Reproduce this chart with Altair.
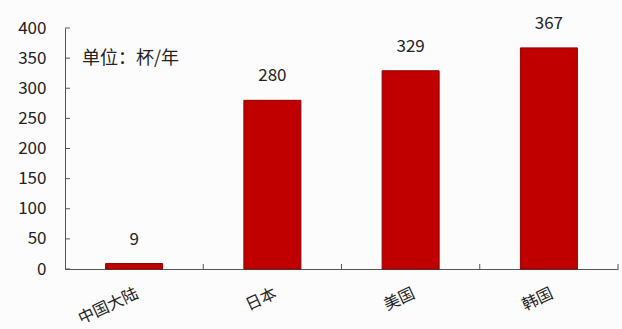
import altair as alt
import pandas as pd

categories = ["中国大陆", "日本", "美国", "韩国"]
values = [9, 280, 329, 367]
y_ticks = [0, 50, 100, 150, 200, 250, 300, 350, 400]
unit_text = "单位：杯/年"

FONT = "Noto Sans CJK SC"
df = pd.DataFrame({"cat": categories, "val": values})
tick_df = pd.DataFrame({"t": y_ticks})

x_axis = alt.Axis(labelAngle=-25, labelFontSize=16, labelColor="#222",
                  labelFont=FONT, ticks=False, domainColor="#555",
                  labelPadding=16, labelAlign="right", labelBaseline="top")
y_axis = alt.Axis(values=y_ticks, tickSize=0, labelPadding=19, labelFontSize=17,
                  labelColor="#222", labelFont=FONT, grid=False, domainColor="#555",
                  labelOverlap=False)
x_scale = alt.Scale(paddingInner=0, paddingOuter=0)
y_scale = alt.Scale(domain=[0, 400], nice=False)

bars = alt.Chart(df).mark_bar(color="#c00000", stroke="#8a0000", strokeWidth=1, size=57).encode(
    x=alt.X("cat:N", sort=categories, title=None, scale=x_scale, axis=x_axis),
    y=alt.Y("val:Q", scale=y_scale, title=None, axis=y_axis),
)

labels = alt.Chart(df).mark_text(baseline="bottom", dy=-15, fontSize=17, font=FONT, color="#222").encode(
    x=alt.X("cat:N", sort=categories, title=None, scale=x_scale, axis=x_axis),
    y=alt.Y("val:Q", scale=y_scale, title=None, axis=y_axis),
    text="val:Q",
)

xticks = alt.Chart(df).mark_rule(color="#555").encode(
    x=alt.X("cat:N", sort=categories, bandPosition=1, title=None, scale=x_scale, axis=x_axis),
    y=alt.value(241), y2=alt.value(236),
)

yticks = alt.Chart(tick_df).mark_rule(color="#555").encode(
    y=alt.Y("t:Q", scale=y_scale, title=None, axis=y_axis),
    x=alt.value(0), x2=alt.value(5),
)

unit = alt.Chart(pd.DataFrame({"u": [unit_text]})).mark_text(
    align="left", baseline="middle", fontSize=18, font=FONT, color="#222"
).encode(x=alt.value(17), y=alt.value(31), text="u:N")

chart = alt.layer(bars, labels, xticks, yticks, unit).properties(
    width=553, height=241,
    autosize=alt.AutoSizeParams(type="none"),
    padding={"left": 65, "top": 28, "right": 4, "bottom": 60},
    background="#fcfcfc",
).configure_view(stroke=None)

chart.save("out.html", embed_options={"renderer": "svg", "actions": False})
